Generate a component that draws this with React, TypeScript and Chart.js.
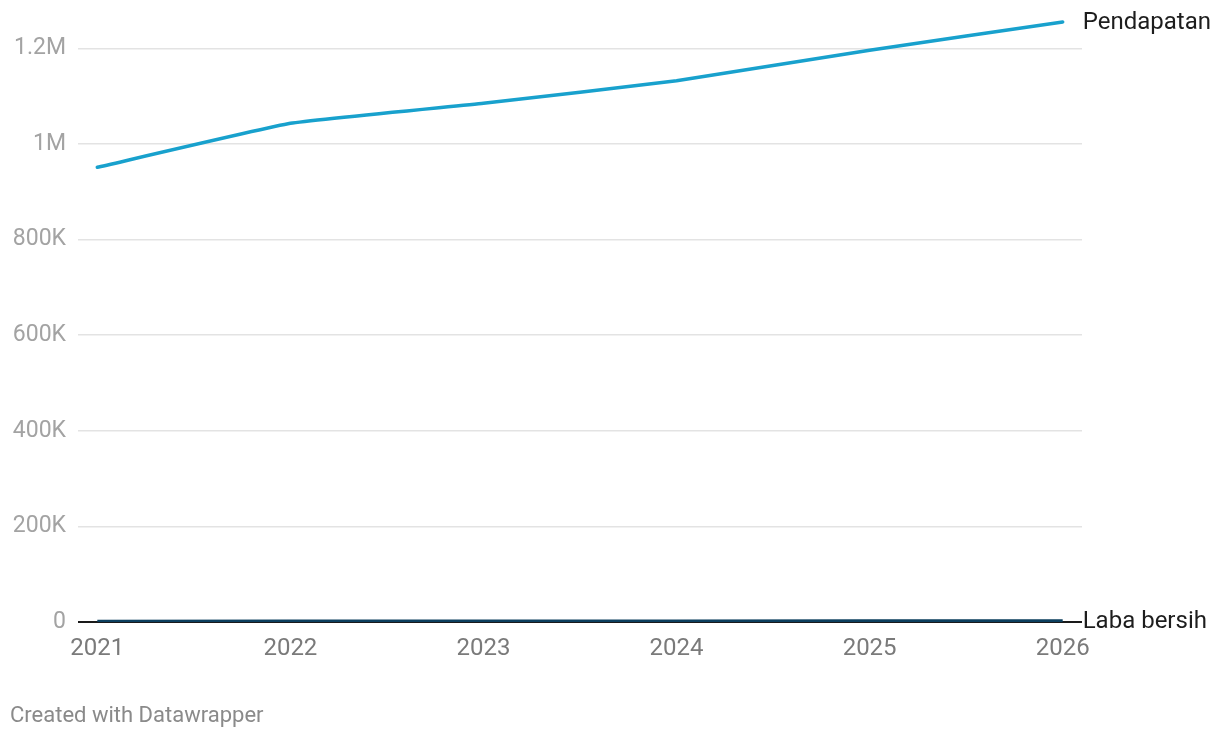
import React, { useEffect, useRef } from "react";
import { Chart, registerables } from "chart.js";

Chart.register(...registerables);

const years = [2021, 2022, 2023, 2024, 2025, 2026];
const pendapatan = [951000, 1043000, 1085000, 1132000, 1196000, 1255000];
const labaBersih = [1800, 2000, 2100, 2300, 2400, 2600];
const seriesNames = ["Pendapatan", "Laba bersih"];
const yTicks = [0, 200000, 400000, 600000, 800000, 1000000, 1200000];

const FONT = "Roboto, 'Noto Sans', sans-serif";

function fmt(v: number): string {
  if (v === 0) return "0";
  if (v >= 1000000) return (v / 1000000).toString() + "M";
  return (v / 1000).toString() + "K";
}

const endLabels = {
  id: "endLabels",
  afterDatasetsDraw(chart: any) {
    const ctx = chart.ctx;
    ctx.save();
    ctx.font = `24px ${FONT}`;
    ctx.fillStyle = "#1d1d1d";
    ctx.textAlign = "left";
    ctx.textBaseline = "middle";
    chart.data.datasets.forEach((ds: any, i: number) => {
      const meta = chart.getDatasetMeta(i);
      const pt = meta.data[meta.data.length - 1];
      if (!pt) return;
      ctx.fillText(ds.label, pt.x + 20, pt.y + 1);
    });
    ctx.restore();
  },
};

export default function App() {
  const ref = useRef<HTMLCanvasElement | null>(null);

  useEffect(() => {
    if (!ref.current) return;
    const chart = new Chart(ref.current, {
      type: "line",
      data: {
        datasets: [
          {
            label: seriesNames[0],
            data: years.map((y, i) => ({ x: y, y: pendapatan[i] })),
            borderColor: "#18a1cd",
            borderWidth: 3.5,
            pointRadius: 0,
            tension: 0.1,
            borderCapStyle: "round",
            borderJoinStyle: "round",
          },
          {
            label: seriesNames[1],
            data: years.map((y, i) => ({ x: y, y: labaBersih[i] })),
            borderColor: "#0c3f5e",
            borderWidth: 3,
            pointRadius: 0,
            tension: 0,
          },
        ],
      },
      options: {
        animation: false,
        responsive: false,
        maintainAspectRatio: false,
        layout: { padding: { top: 10, right: 138, left: 0, bottom: 0 } },
        plugins: {
          legend: { display: false },
          tooltip: { enabled: false },
        },
        scales: {
          x: {
            type: "linear",
            min: 2020.9,
            max: 2026.1,
            afterBuildTicks: (scale: any) => {
              scale.ticks = years.map((v) => ({ value: v }));
            },
            afterFit: (scale: any) => {
              scale.height = 116;
              scale.paddingLeft = 0;
              scale.paddingRight = 0;
            },
            grid: { display: false, drawTicks: false },
            border: { display: false },
            ticks: {
              padding: 13,
              color: "#7a7a7a",
              font: { family: FONT, size: 24 },
              callback: (v: any) => String(v),
              maxRotation: 0,
              autoSkip: false,
            },
          },
          y: {
            min: 0,
            max: 1280000,
            afterBuildTicks: (scale: any) => {
              scale.ticks = yTicks.map((v) => ({ value: v }));
            },
            afterFit: (scale: any) => {
              scale.width = 78;
              scale.paddingTop = 0;
              scale.paddingBottom = 0;
            },
            grid: {
              drawTicks: false,
              color: (c: any) => (c.tick && c.tick.value === 0 ? "#1a1a1a" : "#e3e3e3"),
              lineWidth: (c: any) => (c.tick && c.tick.value === 0 ? 2 : 1.5),
            },
            border: { display: false },
            ticks: {
              padding: 12,
              color: "#a3a3a3",
              font: { family: FONT, size: 23 },
              callback: (v: any) => fmt(Number(v)),
            },
          },
        },
      },
      plugins: [endLabels],
    } as any);
    return () => chart.destroy();
  }, []);

  return (
    <div style={{ position: "fixed", left: 0, top: 0, width: 1220, height: 738, background: "#fff" }}>
      <canvas ref={ref} width={1220} height={738} style={{ display: "block" }} />
      <div
        style={{
          position: "absolute",
          left: 10,
          top: 701,
          fontFamily: FONT,
          fontSize: 22,
          color: "#8a8a8a",
          lineHeight: "28px",
        }}
      >
        Created with Datawrapper
      </div>
    </div>
  );
}
